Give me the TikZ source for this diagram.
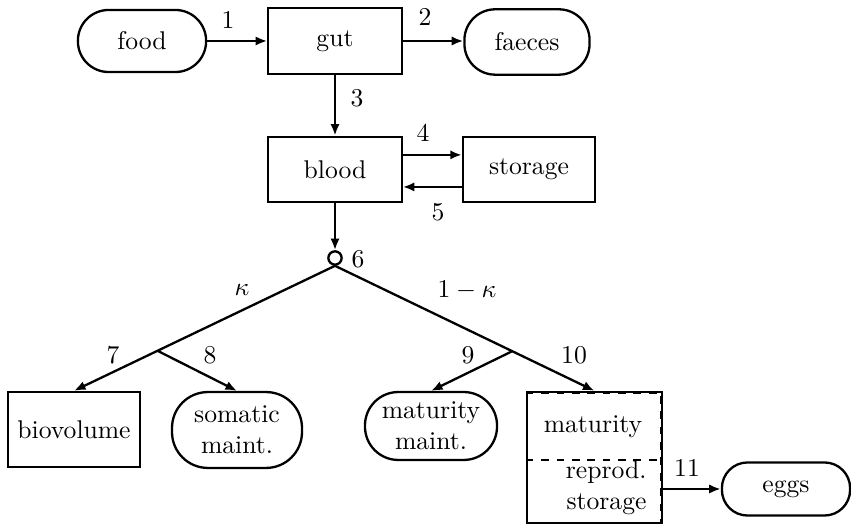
\documentclass[tikz,border=0pt]{standalone}
\usetikzlibrary{positioning,arrows.meta,calc}

\begin{document}
\begin{tikzpicture}[x=0.39pt,y=-0.39pt,
  blk/.style={draw, line width=0.9pt, inner sep=0pt, align=center,
              minimum width=52pt, minimum height=25.5pt},
  pill/.style={blk, rounded corners=#1, minimum width=50pt},
  pill/.default=12pt,
  arr/.style={-{Latex[length=4.5pt,width=3.6pt]}, line width=0.9pt},
  lab/.style={inner sep=1pt},
]
\useasboundingbox (0,0) rectangle (851,525);

% ---------------- intake ----------------
\node[pill, minimum height=24.2pt] (food) at (142,41) {food};
\node[blk, minimum height=25.7pt] (gut) at (335,41) {gut};
\node[pill, minimum width=48.8pt] (faeces) at (527,42) {faeces};

\node[blk] (blood) at (335,169.5) {blood};
\node[blk, minimum width=51.5pt] (storage) at (529,169.5) {storage};

\node[circle, draw, line width=0.9pt, inner sep=0pt, minimum size=5.2pt]
  (split) at (335,258) {};

% ---------------- sinks ----------------
\node[blk, minimum width=51.5pt, minimum height=29.3pt] (bio) at (74,429.5) {biovolume};
\node[pill=14pt, minimum width=50.7pt, minimum height=29.6pt] (som) at (237,430) {somatic\\ maint.};
\node[pill=13pt, minimum width=51.5pt, minimum height=26.5pt] (mm) at (431,426) {maturity\\ maint.};
\node[blk, minimum width=52.7pt, minimum height=51.1pt] (mat) at (594.5,457.5) {};
\node (matup) at (593,427) {maturity};
\node[align=right, anchor=east, inner sep=0pt] (matlo) at (647,488) {reprod.\\ storage};
\node[pill=10pt, minimum height=20.7pt] (eggs) at (786,489) {eggs};

% maturity box: dashed inner edges and divider
\coordinate (div) at ($(mat.north west)!0.52!(mat.south west)$);
\draw[dashed, line width=0.8pt] ([yshift=-0.8pt]mat.north west) -| ([xshift=-0.8pt]mat.south east);
\draw[dashed, line width=0.8pt] (div) -- (div -| mat.east);

% ---------------- labels ----------------
\node[lab] (l1) at (228,20) {1};
\node[lab] (l2) at (425,17) {2};
\node[lab] (l3) at (357,98) {3};
\node[lab] (l4) at (423,133) {4};
\node[lab] (l5) at (438,212) {5};
\node[lab] (l6) at (358,259) {6};
\node[lab] (kap) at (242,290) {$\kappa$};
\node[lab] (kapc) at (467,290) {$1-\kappa$};
\node[lab] (l7) at (113,355) {7};
\node[lab] (l8) at (210,355) {8};
\node[lab] (l9) at (468,355) {9};
\node[lab] (l10) at (574,355) {10};
\node[lab] (l11) at (687,468) {11};

% ---------------- arrows ----------------
\draw[arr] (food) -- (gut);
\draw[arr] (gut.east) -- (gut.east -| faeces.west);
\draw[arr] (gut) -- (blood);
\draw[arr] ([yshift=5.7pt]blood.east) -- ([yshift=5.7pt]storage.west);
\draw[arr] ([yshift=-6.8pt]storage.west) -- ([yshift=-6.8pt]blood.east);
\draw[arr] (blood) -- (split);

\draw[arr] (split.south) -- coordinate[pos=0.68] (kl) (bio.north);
\draw[arr] (kl) -- (som.north);
\draw[arr] (split.south) -- coordinate[pos=0.683] (kr) (mat.north);
\draw[arr] (kr) -- (mm.north);

\draw[arr] (eggs.west -| mat.east) -- (eggs.west);

\end{tikzpicture}
\end{document}
